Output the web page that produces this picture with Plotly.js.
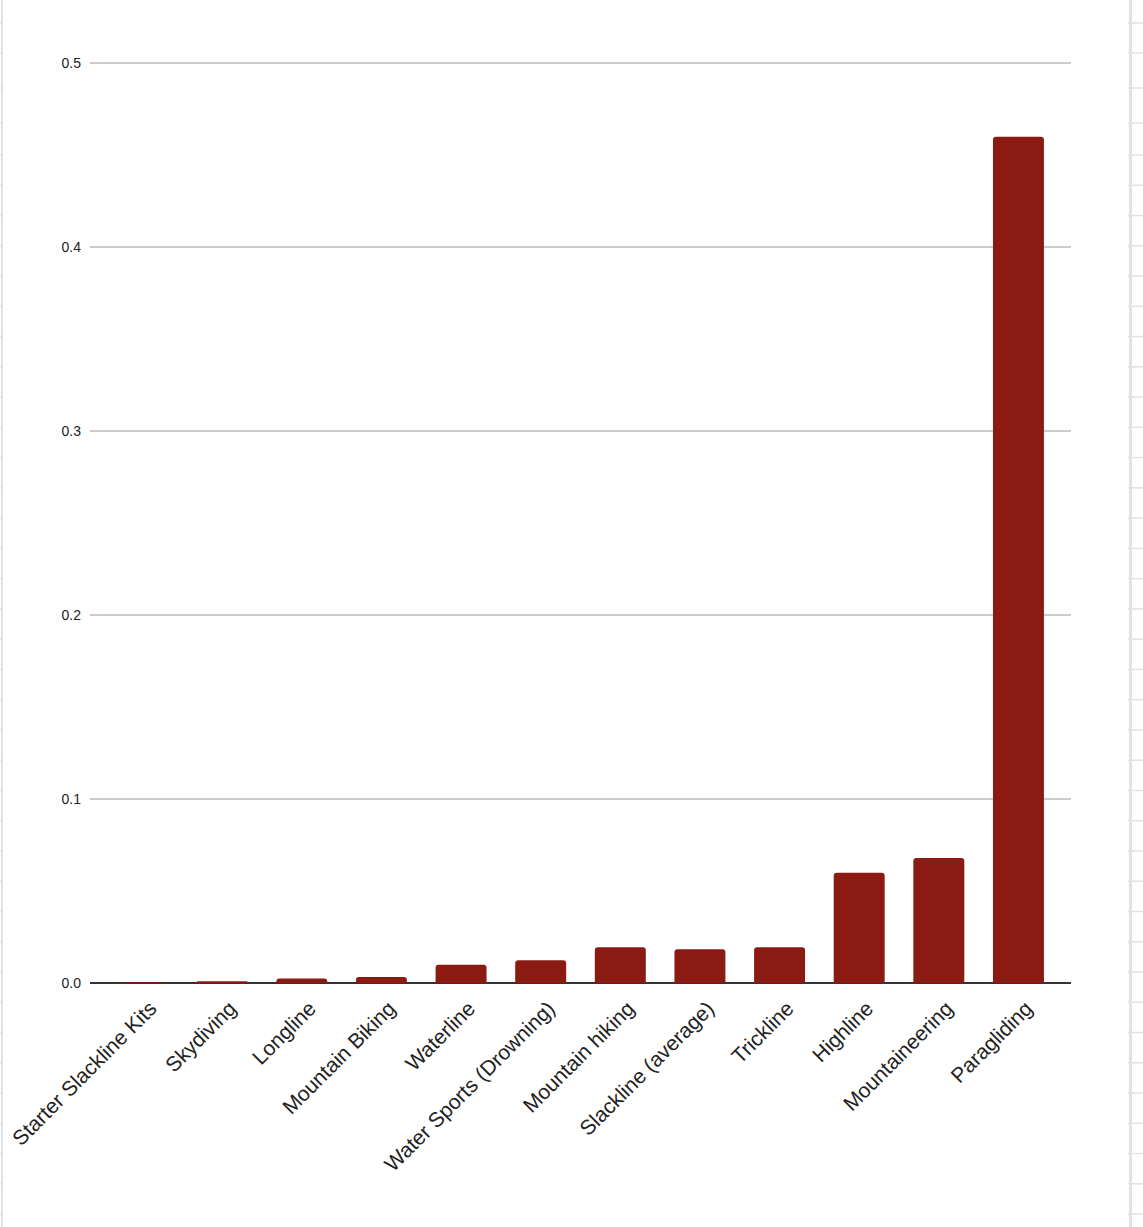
<!DOCTYPE html>
<html>
<head>
<meta charset="utf-8">
<script src="https://cdn.plot.ly/plotly-3.0.1.min.js"></script>
<style>
  html, body { margin: 0; padding: 0; background: #fff; }
  #chart { width: 1143px; height: 1227px; }
</style>
</head>
<body>
<div id="chart"></div>
<script>
// categories and values
var activities = ["Starter Slackline Kits", "Skydiving", "Longline", "Mountain Biking",
                  "Waterline", "Water Sports (Drowning)", "Mountain hiking",
                  "Slackline (average)", "Trickline", "Highline", "Mountaineering", "Paragliding"];
var rates = [0.0004, 0.0009, 0.0025, 0.0033, 0.0099, 0.0123, 0.0195, 0.0183, 0.0195, 0.0599, 0.068, 0.46];
var yTicks = [0, 0.1, 0.2, 0.3, 0.4, 0.5];
var yTickText = ["0.0", "0.1", "0.2", "0.3", "0.4", "0.5"];

var W = 1143, H = 1227;
var mL = 90, mR = 72, mT = 61, mB = 244;

// pixel -> paper helpers for the spreadsheet lines behind the chart
function px(x) { return (x - mL) / (W - mL - mR); }
function py(y) { return (H - mB - y) / (H - mT - mB); }

var shapes = [];
var sheetLine = "#e2e2e2";
shapes.push({type: "line", xref: "paper", yref: "paper", x0: px(2), x1: px(2), y0: py(0), y1: py(H), line: {color: sheetLine, width: 2}, layer: "below"});
shapes.push({type: "line", xref: "paper", yref: "paper", x0: px(1130.5), x1: px(1130.5), y0: py(0), y1: py(H), line: {color: sheetLine, width: 3}, layer: "below"});

var rows = [23, 53, 88, 123];
for (var k = 0; k <= 35; k++) rows.push(155 + k * 30.26);
rows.forEach(function (r) {
  shapes.push({type: "line", xref: "paper", yref: "paper", x0: px(0), x1: px(3), y0: py(r), y1: py(r), line: {color: sheetLine, width: 1.5}, layer: "below"});
  shapes.push({type: "line", xref: "paper", yref: "paper", x0: px(1128), x1: px(1143), y0: py(r), y1: py(r), line: {color: sheetLine, width: 1.5}, layer: "below"});
});

var data = [{
  type: "bar",
  x: activities,
  y: rates,
  marker: {color: "#8b1a12", cornerradius: 3},
  hoverinfo: "x+y"
}];

var layout = {
  width: W,
  height: H,
  margin: {l: mL, r: mR, t: mT, b: mB, pad: 0},
  paper_bgcolor: "#ffffff",
  plot_bgcolor: "#ffffff",
  showlegend: false,
  bargap: 0.36,
  font: {family: "Liberation Sans, Arial, sans-serif", color: "#222222"},
  xaxis: {
    type: "category",
    range: [-0.66, 11.66],
    tickangle: -45,
    tickfont: {size: 21, color: "#222222"},
    showgrid: false,
    zeroline: false,
    showline: false,
    ticks: "",
    ticklabelstandoff: 8,
    ticklabelshift: 8,
    automargin: false
  },
  yaxis: {
    range: [0, 0.5012],
    tickvals: yTicks,
    ticktext: yTickText,
    tickfont: {size: 14, color: "#222222"},
    showgrid: true,
    gridcolor: "#cccccc",
    gridwidth: 2.5,
    zeroline: true,
    zerolinecolor: "#333333",
    zerolinewidth: 2.5,
    showline: false,
    ticks: "",
    ticklabelstandoff: 8,
    automargin: false
  },
  shapes: shapes
};

Plotly.newPlot("chart", data, layout, {displayModeBar: false, staticPlot: true});
</script>
</body>
</html>
